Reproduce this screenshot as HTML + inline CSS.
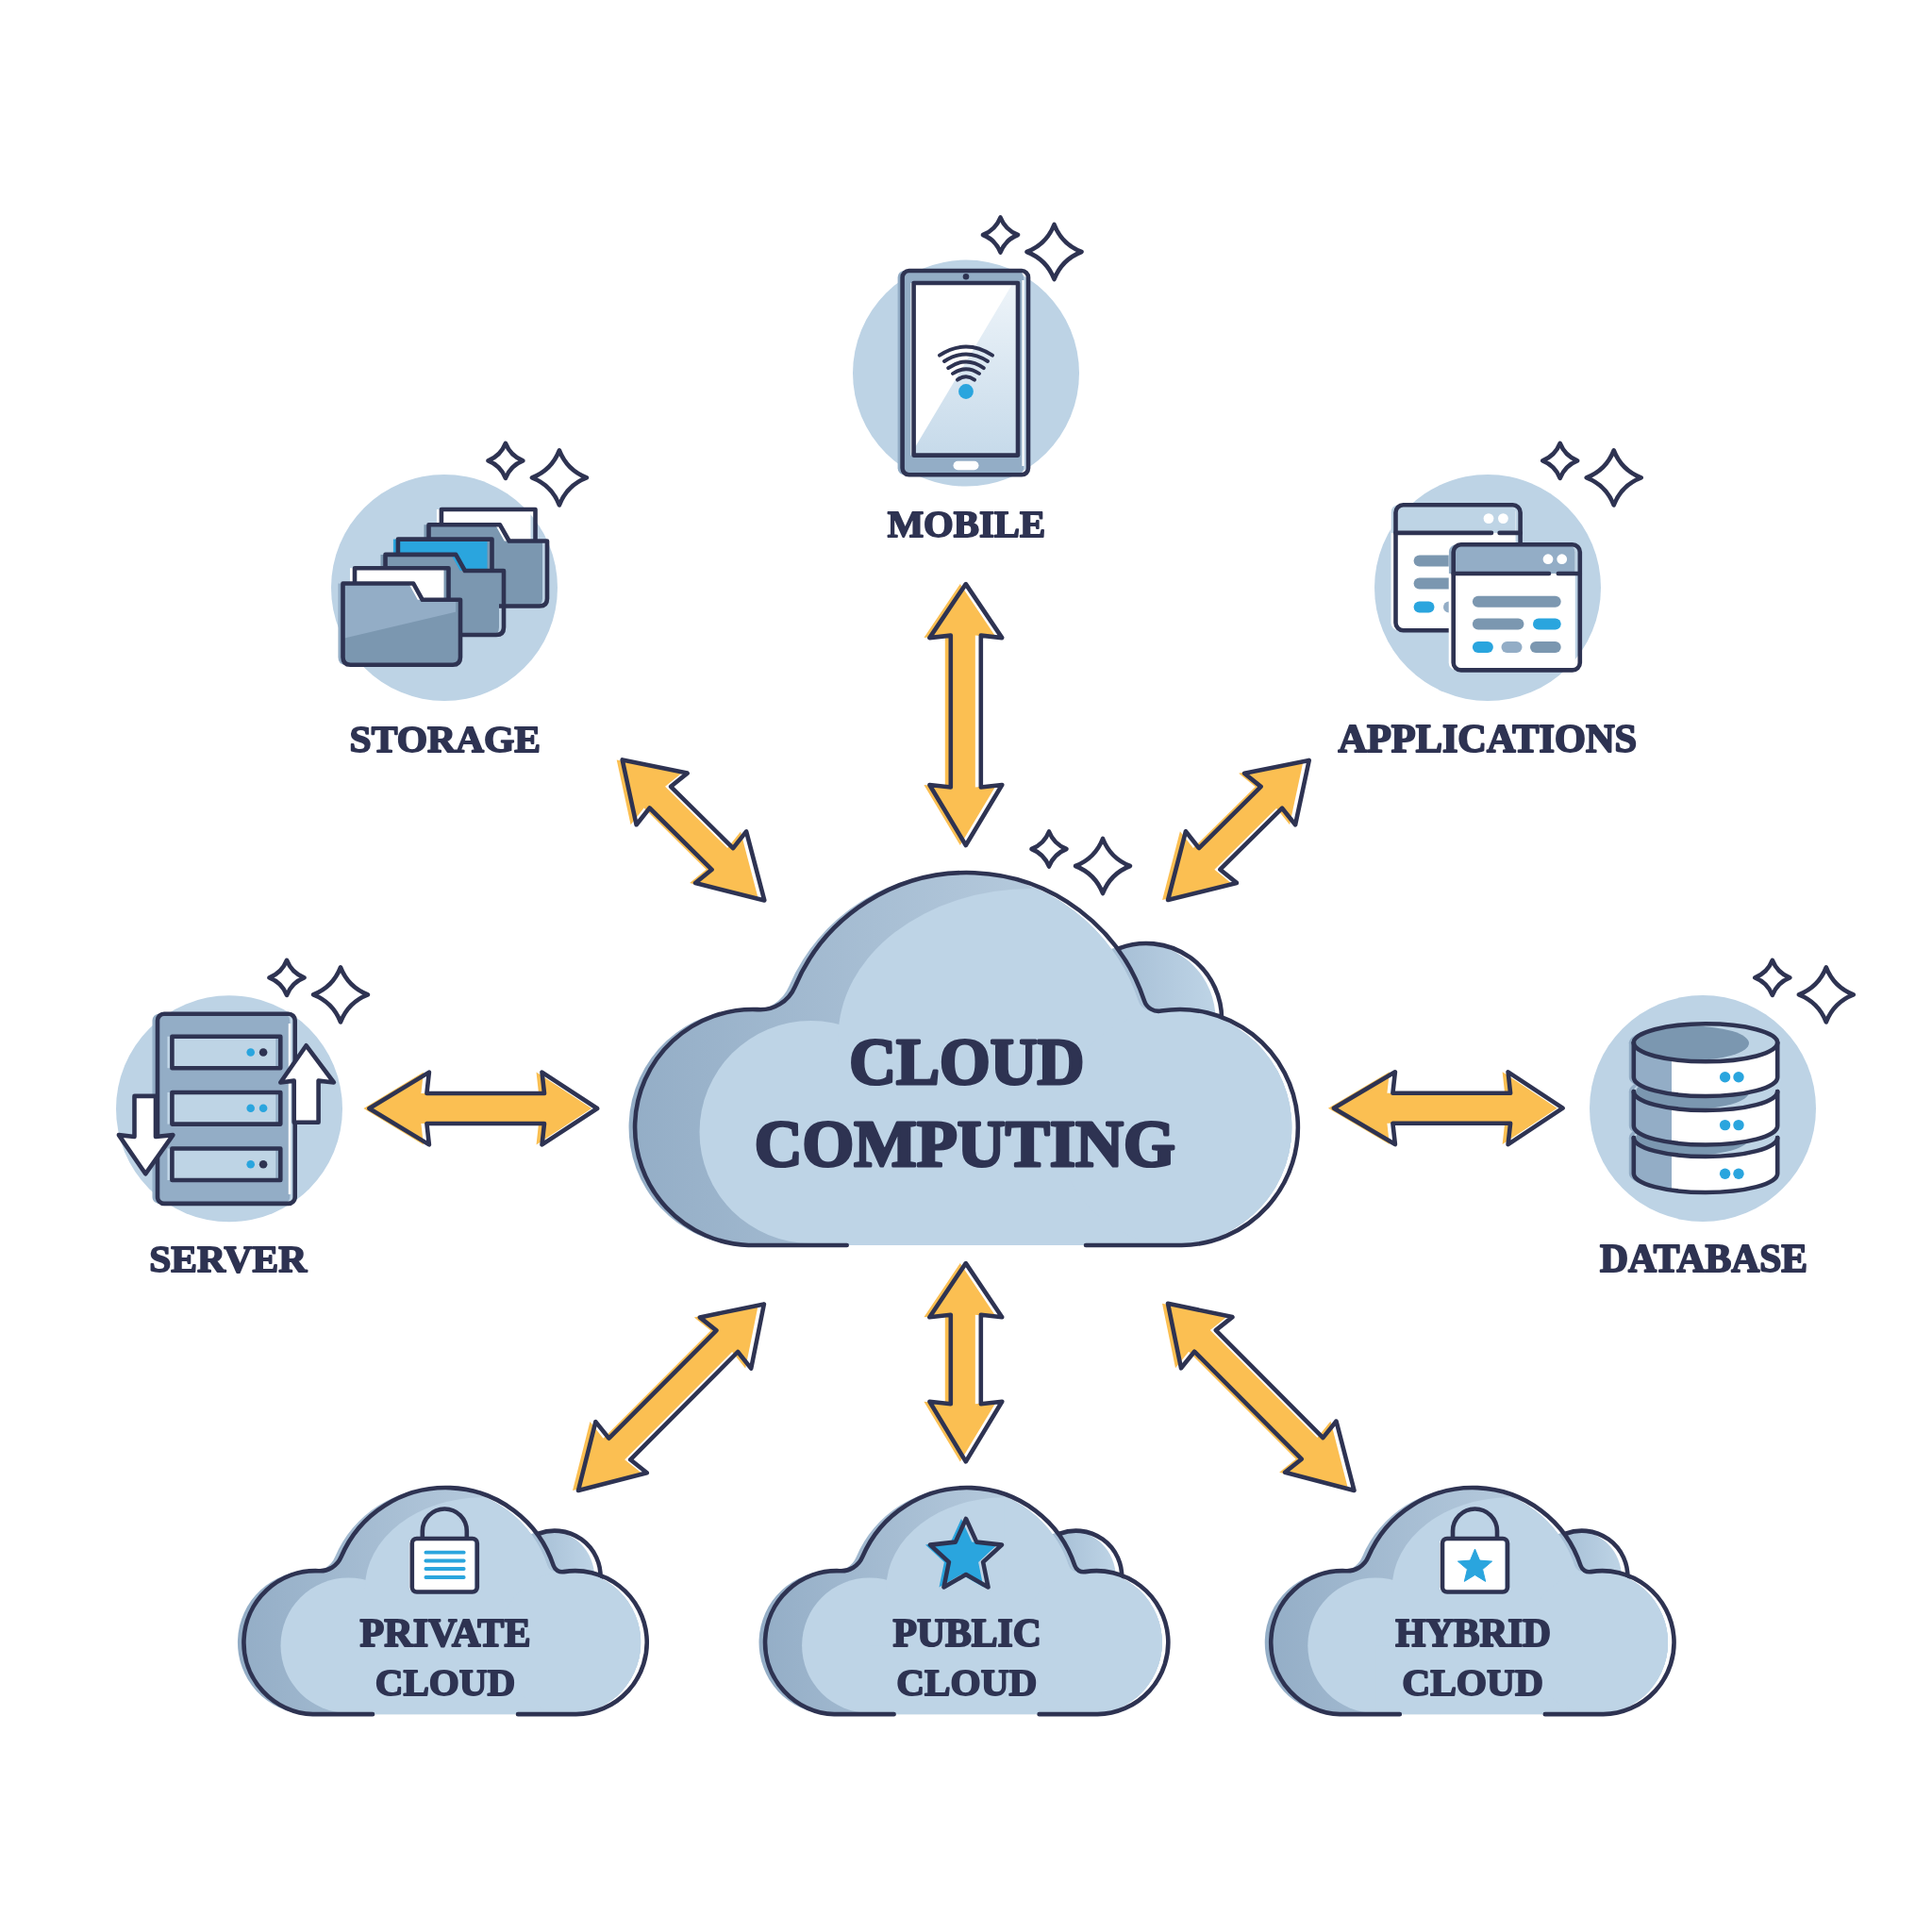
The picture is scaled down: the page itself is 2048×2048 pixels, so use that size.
<!DOCTYPE html>
<html><head><meta charset="utf-8"><style>html,body{margin:0;padding:0;background:#fff;overflow:hidden}svg{display:block;will-change:transform}</style></head><body>
<svg width="2048" height="2048" viewBox="0 0 2048 2048">
<defs>
<linearGradient id="bumpgrad" x1="0" y1="0" x2="1" y2="0"><stop offset="0" stop-color="#9ab4cd"/><stop offset="1" stop-color="#bed4e6"/></linearGradient>
<clipPath id="mainclip"><path d="M897.7,1320.0 L793.4,1320.0 A125.0,125.0 0 1 1 802.8,1070.1 A40.0,40.0 0 0 0 842.7,1045.8 A198.0,198.0 0 0 1 1213.0,1060.9 A16.0,16.0 0 0 0 1231.0,1071.6 A125.0,125.0 0 1 1 1252.6,1320.0 L1151.0,1320.0 Z"/></clipPath>
<clipPath id="privclip"><path d="M897.7,1320.0 L793.4,1320.0 A125.0,125.0 0 1 1 802.8,1070.1 A40.0,40.0 0 0 0 842.7,1045.8 A198.0,198.0 0 0 1 1213.0,1060.9 A16.0,16.0 0 0 0 1231.0,1071.6 A125.0,125.0 0 1 1 1252.6,1320.0 L1151.0,1320.0 Z"/></clipPath>
<clipPath id="pubclip"><path d="M897.7,1320.0 L793.4,1320.0 A125.0,125.0 0 1 1 802.8,1070.1 A40.0,40.0 0 0 0 842.7,1045.8 A198.0,198.0 0 0 1 1213.0,1060.9 A16.0,16.0 0 0 0 1231.0,1071.6 A125.0,125.0 0 1 1 1252.6,1320.0 L1151.0,1320.0 Z"/></clipPath>
<clipPath id="hybclip"><path d="M897.7,1320.0 L793.4,1320.0 A125.0,125.0 0 1 1 802.8,1070.1 A40.0,40.0 0 0 0 842.7,1045.8 A198.0,198.0 0 0 1 1213.0,1060.9 A16.0,16.0 0 0 0 1231.0,1071.6 A125.0,125.0 0 1 1 1252.6,1320.0 L1151.0,1320.0 Z"/></clipPath>
<linearGradient id="scr" x1="0" y1="0" x2="1" y2="1"><stop offset="0" stop-color="#ffffff"/><stop offset="1" stop-color="#c9dcec"/></linearGradient>
<linearGradient id="scr2" x1="0" y1="0" x2="0" y2="1"><stop offset="0" stop-color="#eef4f9"/><stop offset="1" stop-color="#c6daea"/></linearGradient>
<linearGradient id="darkgrad" gradientUnits="userSpaceOnUse" x1="668" y1="0" x2="1100" y2="0"><stop offset="0" stop-color="#93adc6"/><stop offset="1" stop-color="#b4c9dc"/></linearGradient>
</defs>
<rect width="2048" height="2048" fill="#fff"/>
<circle cx="1024" cy="395.6" r="120" fill="#bdd3e5"/>
<circle cx="471" cy="623" r="120" fill="#bdd3e5"/>
<circle cx="1577" cy="623" r="120" fill="#bdd3e5"/>
<circle cx="243" cy="1175.3" r="120" fill="#bdd3e5"/>
<circle cx="1805" cy="1175" r="120" fill="#bdd3e5"/>
<polygon points="1023.8,619.1 985.4,676.1 1007.8,673.6 1007.8,834.5 985.4,832.0 1023.8,896.0 1062.2,832.0 1039.8,834.5 1039.8,673.6 1062.2,676.1" fill="#fbbf52" transform="translate(-6,0)"/><polygon points="1023.8,619.1 985.4,676.1 1007.8,673.6 1007.8,834.5 985.4,832.0 1023.8,896.0 1062.2,832.0 1039.8,834.5 1039.8,673.6 1062.2,676.1" fill="none" stroke="#2e3352" stroke-width="4.6" stroke-linejoin="round"/>
<polygon points="659.7,805.4 674.6,874.2 688.6,856.5 754.6,921.8 737.1,936.0 810.3,954.4 791.1,881.4 777.1,899.1 711.1,833.8 728.6,819.6" fill="#fbbf52" transform="translate(-6,0)"/><polygon points="659.7,805.4 674.6,874.2 688.6,856.5 754.6,921.8 737.1,936.0 810.3,954.4 791.1,881.4 777.1,899.1 711.1,833.8 728.6,819.6" fill="none" stroke="#2e3352" stroke-width="4.6" stroke-linejoin="round"/>
<polygon points="1387.7,805.9 1319.1,819.7 1336.6,833.9 1270.9,899.0 1256.9,881.3 1238.1,953.9 1310.9,935.9 1293.4,921.7 1359.1,856.7 1373.1,874.3" fill="#fbbf52" transform="translate(-6,0)"/><polygon points="1387.7,805.9 1319.1,819.7 1336.6,833.9 1270.9,899.0 1256.9,881.3 1238.1,953.9 1310.9,935.9 1293.4,921.7 1359.1,856.7 1373.1,874.3" fill="none" stroke="#2e3352" stroke-width="4.6" stroke-linejoin="round"/>
<polygon points="391.4,1175.0 454.9,1213.4 452.4,1191.0 577.0,1191.0 574.5,1213.4 633.1,1175.0 574.5,1136.6 577.0,1159.0 452.4,1159.0 454.9,1136.6" fill="#fbbf52" transform="translate(-6,0)"/><polygon points="391.4,1175.0 454.9,1213.4 452.4,1191.0 577.0,1191.0 574.5,1213.4 633.1,1175.0 574.5,1136.6 577.0,1159.0 452.4,1159.0 454.9,1136.6" fill="none" stroke="#2e3352" stroke-width="4.6" stroke-linejoin="round"/>
<polygon points="1413.9,1174.7 1478.9,1213.1 1476.4,1190.7 1601.1,1190.7 1598.6,1213.1 1656.6,1174.7 1598.6,1136.3 1601.1,1158.7 1476.4,1158.7 1478.9,1136.3" fill="#fbbf52" transform="translate(-6,0)"/><polygon points="1413.9,1174.7 1478.9,1213.1 1476.4,1190.7 1601.1,1190.7 1598.6,1213.1 1656.6,1174.7 1598.6,1136.3 1601.1,1158.7 1476.4,1158.7 1478.9,1136.3" fill="none" stroke="#2e3352" stroke-width="4.6" stroke-linejoin="round"/>
<polygon points="1023.8,1339.1 985.4,1396.3 1007.8,1393.8 1007.8,1488.2 985.4,1485.7 1023.8,1549.4 1062.2,1485.7 1039.8,1488.2 1039.8,1393.8 1062.2,1396.3" fill="#fbbf52" transform="translate(-6,0)"/><polygon points="1023.8,1339.1 985.4,1396.3 1007.8,1393.8 1007.8,1488.2 985.4,1485.7 1023.8,1549.4 1062.2,1485.7 1039.8,1488.2 1039.8,1393.8 1062.2,1396.3" fill="none" stroke="#2e3352" stroke-width="4.6" stroke-linejoin="round"/>
<polygon points="809.9,1382.4 741.8,1396.4 759.4,1410.4 645.5,1524.7 631.4,1507.1 613.0,1580.0 685.8,1561.3 668.2,1547.3 782.1,1433.0 796.2,1450.6" fill="#fbbf52" transform="translate(-6,0)"/><polygon points="809.9,1382.4 741.8,1396.4 759.4,1410.4 645.5,1524.7 631.4,1507.1 613.0,1580.0 685.8,1561.3 668.2,1547.3 782.1,1433.0 796.2,1450.6" fill="none" stroke="#2e3352" stroke-width="4.6" stroke-linejoin="round"/>
<polygon points="1238.0,1381.8 1252.0,1450.3 1266.1,1432.7 1379.7,1546.7 1362.1,1560.7 1435.5,1580.0 1416.5,1506.5 1402.4,1524.1 1288.8,1410.1 1306.4,1396.1" fill="#fbbf52" transform="translate(-6,0)"/><polygon points="1238.0,1381.8 1252.0,1450.3 1266.1,1432.7 1379.7,1546.7 1362.1,1560.7 1435.5,1580.0 1416.5,1506.5 1402.4,1524.1 1288.8,1410.1 1306.4,1396.1" fill="none" stroke="#2e3352" stroke-width="4.6" stroke-linejoin="round"/>
<g transform="">
<circle cx="1208.5" cy="1080.0" r="80.0" fill="url(#bumpgrad)"/>
<path d="M1186.7,1005.2 A80.0,80.0 0 0 1 1295.0,1082.8" fill="none" stroke="#2e3352" stroke-width="4.6" stroke-linecap="round" vector-effect="non-scaling-stroke"/>
<g transform="translate(-6.5,0)">
<path d="M897.7,1320.0 L793.4,1320.0 A125.0,125.0 0 1 1 802.8,1070.1 A40.0,40.0 0 0 0 842.7,1045.8 A198.0,198.0 0 0 1 1213.0,1060.9 A16.0,16.0 0 0 0 1231.0,1071.6 A125.0,125.0 0 1 1 1252.6,1320.0 L1151.0,1320.0 Z" fill="url(#darkgrad)"/>
<g clip-path="url(#mainclip)">
<circle cx="866" cy="1200" r="118" fill="#bed4e6"/>
<ellipse cx="1100" cy="1100" rx="205" ry="158" fill="#bed4e6"/>
<rect x="1100" y="900" width="400" height="300" fill="#bed4e6"/>
<rect x="866" y="1200" width="600" height="200" fill="#bed4e6"/><rect x="895" y="1100" width="600" height="200" fill="#bed4e6"/>
<circle cx="1252.6" cy="1194.7" r="125.0" fill="#bed4e6"/>
</g>
</g>
<path d="M897.7,1320.0 L793.4,1320.0 A125.0,125.0 0 1 1 802.8,1070.1 A40.0,40.0 0 0 0 842.7,1045.8 A198.0,198.0 0 0 1 1213.0,1060.9 A16.0,16.0 0 0 0 1231.0,1071.6 A125.0,125.0 0 1 1 1252.6,1320.0 L1151.0,1320.0" fill="none" stroke="#2e3352" stroke-width="4.6" stroke-linecap="round" vector-effect="non-scaling-stroke"/>
</g>
<text x="900.2" y="1148.9" textLength="249.1" lengthAdjust="spacingAndGlyphs" font-family="Liberation Serif" font-weight="bold" font-size="68.9" fill="#2e3352" stroke="#2e3352" stroke-width="3.1" stroke-linejoin="round">CLOUD</text>
<text x="799.7" y="1235.7" textLength="446.0" lengthAdjust="spacingAndGlyphs" font-family="Liberation Serif" font-weight="bold" font-size="69.7" fill="#2e3352" stroke="#2e3352" stroke-width="3.1" stroke-linejoin="round">COMPUTING</text>
<path d="M1112.0,881.5 Q1117.2,894.8 1130.5,900.0 Q1117.2,905.2 1112.0,918.5 Q1106.8,905.2 1093.5,900.0 Q1106.8,894.8 1112.0,881.5 Z" fill="#fff" stroke="#2e3352" stroke-width="4.6" stroke-linejoin="round"/><path d="M1169.0,889.0 Q1177.1,909.9 1198.0,918.0 Q1177.1,926.1 1169.0,947.0 Q1160.9,926.1 1140.0,918.0 Q1160.9,909.9 1169.0,889.0 Z" fill="#fff" stroke="#2e3352" stroke-width="4.6" stroke-linejoin="round"/>
<g transform="translate(471.2,1577.0) scale(0.608) translate(-1023,-925)">
<circle cx="1204.3" cy="1080.0" r="80.0" fill="url(#bumpgrad)"/>
<path d="M1186.7,1005.2 A80.0,80.0 0 0 1 1295.0,1082.8" fill="none" stroke="#2e3352" stroke-width="4.6" stroke-linecap="round" vector-effect="non-scaling-stroke"/>
<g transform="translate(-10.7,0)">
<path d="M897.7,1320.0 L793.4,1320.0 A125.0,125.0 0 1 1 802.8,1070.1 A40.0,40.0 0 0 0 842.7,1045.8 A198.0,198.0 0 0 1 1213.0,1060.9 A16.0,16.0 0 0 0 1231.0,1071.6 A125.0,125.0 0 1 1 1252.6,1320.0 L1151.0,1320.0 Z" fill="url(#darkgrad)"/>
<g clip-path="url(#privclip)">
<circle cx="866" cy="1200" r="118" fill="#bed4e6"/>
<ellipse cx="1100" cy="1100" rx="205" ry="158" fill="#bed4e6"/>
<rect x="1100" y="900" width="400" height="300" fill="#bed4e6"/>
<rect x="866" y="1200" width="600" height="200" fill="#bed4e6"/><rect x="895" y="1100" width="600" height="200" fill="#bed4e6"/>
<circle cx="1252.6" cy="1194.7" r="125.0" fill="#bed4e6"/>
</g>
</g>
<path d="M897.7,1320.0 L793.4,1320.0 A125.0,125.0 0 1 1 802.8,1070.1 A40.0,40.0 0 0 0 842.7,1045.8 A198.0,198.0 0 0 1 1213.0,1060.9 A16.0,16.0 0 0 0 1231.0,1071.6 A125.0,125.0 0 1 1 1252.6,1320.0 L1151.0,1320.0" fill="none" stroke="#2e3352" stroke-width="4.6" stroke-linecap="round" vector-effect="non-scaling-stroke"/>
</g>
<g transform="translate(1023.8,1577.0) scale(0.608) translate(-1023,-925)">
<circle cx="1204.3" cy="1080.0" r="80.0" fill="url(#bumpgrad)"/>
<path d="M1186.7,1005.2 A80.0,80.0 0 0 1 1295.0,1082.8" fill="none" stroke="#2e3352" stroke-width="4.6" stroke-linecap="round" vector-effect="non-scaling-stroke"/>
<g transform="translate(-10.7,0)">
<path d="M897.7,1320.0 L793.4,1320.0 A125.0,125.0 0 1 1 802.8,1070.1 A40.0,40.0 0 0 0 842.7,1045.8 A198.0,198.0 0 0 1 1213.0,1060.9 A16.0,16.0 0 0 0 1231.0,1071.6 A125.0,125.0 0 1 1 1252.6,1320.0 L1151.0,1320.0 Z" fill="url(#darkgrad)"/>
<g clip-path="url(#pubclip)">
<circle cx="866" cy="1200" r="118" fill="#bed4e6"/>
<ellipse cx="1100" cy="1100" rx="205" ry="158" fill="#bed4e6"/>
<rect x="1100" y="900" width="400" height="300" fill="#bed4e6"/>
<rect x="866" y="1200" width="600" height="200" fill="#bed4e6"/><rect x="895" y="1100" width="600" height="200" fill="#bed4e6"/>
<circle cx="1252.6" cy="1194.7" r="125.0" fill="#bed4e6"/>
</g>
</g>
<path d="M897.7,1320.0 L793.4,1320.0 A125.0,125.0 0 1 1 802.8,1070.1 A40.0,40.0 0 0 0 842.7,1045.8 A198.0,198.0 0 0 1 1213.0,1060.9 A16.0,16.0 0 0 0 1231.0,1071.6 A125.0,125.0 0 1 1 1252.6,1320.0 L1151.0,1320.0" fill="none" stroke="#2e3352" stroke-width="4.6" stroke-linecap="round" vector-effect="non-scaling-stroke"/>
</g>
<g transform="translate(1560.0,1577.0) scale(0.608) translate(-1023,-925)">
<circle cx="1204.3" cy="1080.0" r="80.0" fill="url(#bumpgrad)"/>
<path d="M1186.7,1005.2 A80.0,80.0 0 0 1 1295.0,1082.8" fill="none" stroke="#2e3352" stroke-width="4.6" stroke-linecap="round" vector-effect="non-scaling-stroke"/>
<g transform="translate(-10.7,0)">
<path d="M897.7,1320.0 L793.4,1320.0 A125.0,125.0 0 1 1 802.8,1070.1 A40.0,40.0 0 0 0 842.7,1045.8 A198.0,198.0 0 0 1 1213.0,1060.9 A16.0,16.0 0 0 0 1231.0,1071.6 A125.0,125.0 0 1 1 1252.6,1320.0 L1151.0,1320.0 Z" fill="url(#darkgrad)"/>
<g clip-path="url(#hybclip)">
<circle cx="866" cy="1200" r="118" fill="#bed4e6"/>
<ellipse cx="1100" cy="1100" rx="205" ry="158" fill="#bed4e6"/>
<rect x="1100" y="900" width="400" height="300" fill="#bed4e6"/>
<rect x="866" y="1200" width="600" height="200" fill="#bed4e6"/><rect x="895" y="1100" width="600" height="200" fill="#bed4e6"/>
<circle cx="1252.6" cy="1194.7" r="125.0" fill="#bed4e6"/>
</g>
</g>
<path d="M897.7,1320.0 L793.4,1320.0 A125.0,125.0 0 1 1 802.8,1070.1 A40.0,40.0 0 0 0 842.7,1045.8 A198.0,198.0 0 0 1 1213.0,1060.9 A16.0,16.0 0 0 0 1231.0,1071.6 A125.0,125.0 0 1 1 1252.6,1320.0 L1151.0,1320.0" fill="none" stroke="#2e3352" stroke-width="4.6" stroke-linecap="round" vector-effect="non-scaling-stroke"/>
</g>
<text x="381.6" y="1745.0" textLength="180.9" lengthAdjust="spacingAndGlyphs" font-family="Liberation Serif" font-weight="bold" font-size="41.4" fill="#2e3352" stroke="#2e3352" stroke-width="1.9" stroke-linejoin="round">PRIVATE</text>
<text x="397.7" y="1796.6" textLength="148.5" lengthAdjust="spacingAndGlyphs" font-family="Liberation Serif" font-weight="bold" font-size="40.9" fill="#2e3352" stroke="#2e3352" stroke-width="1.8" stroke-linejoin="round">CLOUD</text>
<text x="946.5" y="1744.7" textLength="157.4" lengthAdjust="spacingAndGlyphs" font-family="Liberation Serif" font-weight="bold" font-size="41.2" fill="#2e3352" stroke="#2e3352" stroke-width="1.9" stroke-linejoin="round">PUBLIC</text>
<text x="950.2" y="1796.6" textLength="149.1" lengthAdjust="spacingAndGlyphs" font-family="Liberation Serif" font-weight="bold" font-size="40.9" fill="#2e3352" stroke="#2e3352" stroke-width="1.8" stroke-linejoin="round">CLOUD</text>
<text x="1479.3" y="1744.7" textLength="164.7" lengthAdjust="spacingAndGlyphs" font-family="Liberation Serif" font-weight="bold" font-size="41.2" fill="#2e3352" stroke="#2e3352" stroke-width="1.9" stroke-linejoin="round">HYBRID</text>
<text x="1486.2" y="1796.6" textLength="149.8" lengthAdjust="spacingAndGlyphs" font-family="Liberation Serif" font-weight="bold" font-size="40.9" fill="#2e3352" stroke="#2e3352" stroke-width="1.8" stroke-linejoin="round">CLOUD</text>
<text x="940.7" y="568.9" textLength="167.4" lengthAdjust="spacingAndGlyphs" font-family="Liberation Serif" font-weight="bold" font-size="40.7" fill="#2e3352" stroke="#2e3352" stroke-width="1.8" stroke-linejoin="round">MOBILE</text>
<text x="370.6" y="796.6" textLength="202.5" lengthAdjust="spacingAndGlyphs" font-family="Liberation Serif" font-weight="bold" font-size="40.9" fill="#2e3352" stroke="#2e3352" stroke-width="1.8" stroke-linejoin="round">STORAGE</text>
<text x="1418.4" y="796.7" textLength="316.7" lengthAdjust="spacingAndGlyphs" font-family="Liberation Serif" font-weight="bold" font-size="41.4" fill="#2e3352" stroke="#2e3352" stroke-width="1.9" stroke-linejoin="round">APPLICATIONS</text>
<text x="158.3" y="1348.4" textLength="166.8" lengthAdjust="spacingAndGlyphs" font-family="Liberation Serif" font-weight="bold" font-size="41.0" fill="#2e3352" stroke="#2e3352" stroke-width="1.8" stroke-linejoin="round">SERVER</text>
<text x="1695.9" y="1348.4" textLength="220.1" lengthAdjust="spacingAndGlyphs" font-family="Liberation Serif" font-weight="bold" font-size="41.2" fill="#2e3352" stroke="#2e3352" stroke-width="1.9" stroke-linejoin="round">DATABASE</text>
<path d="M1060.5,230.5 Q1065.7,243.8 1079.0,249.0 Q1065.7,254.2 1060.5,267.5 Q1055.3,254.2 1042.0,249.0 Q1055.3,243.8 1060.5,230.5 Z" fill="#fff" stroke="#2e3352" stroke-width="4.6" stroke-linejoin="round"/><path d="M1117.5,238.0 Q1125.6,258.9 1146.5,267.0 Q1125.6,275.1 1117.5,296.0 Q1109.4,275.1 1088.5,267.0 Q1109.4,258.9 1117.5,238.0 Z" fill="#fff" stroke="#2e3352" stroke-width="4.6" stroke-linejoin="round"/>
<path d="M535.9,469.8 Q541.1,483.1 554.4,488.3 Q541.1,493.5 535.9,506.8 Q530.7,493.5 517.4,488.3 Q530.7,483.1 535.9,469.8 Z" fill="#fff" stroke="#2e3352" stroke-width="4.6" stroke-linejoin="round"/><path d="M592.9,477.3 Q601.0,498.2 621.9,506.3 Q601.0,514.4 592.9,535.3 Q584.8,514.4 563.9,506.3 Q584.8,498.2 592.9,477.3 Z" fill="#fff" stroke="#2e3352" stroke-width="4.6" stroke-linejoin="round"/>
<path d="M1653.7,469.8 Q1658.9,483.1 1672.2,488.3 Q1658.9,493.5 1653.7,506.8 Q1648.5,493.5 1635.2,488.3 Q1648.5,483.1 1653.7,469.8 Z" fill="#fff" stroke="#2e3352" stroke-width="4.6" stroke-linejoin="round"/><path d="M1710.7,477.3 Q1718.8,498.2 1739.7,506.3 Q1718.8,514.4 1710.7,535.3 Q1702.6,514.4 1681.7,506.3 Q1702.6,498.2 1710.7,477.3 Z" fill="#fff" stroke="#2e3352" stroke-width="4.6" stroke-linejoin="round"/>
<path d="M304.0,1017.9 Q309.2,1031.2 322.5,1036.4 Q309.2,1041.6 304.0,1054.9 Q298.8,1041.6 285.5,1036.4 Q298.8,1031.2 304.0,1017.9 Z" fill="#fff" stroke="#2e3352" stroke-width="4.6" stroke-linejoin="round"/><path d="M361.0,1025.4 Q369.1,1046.3 390.0,1054.4 Q369.1,1062.5 361.0,1083.4 Q352.9,1062.5 332.0,1054.4 Q352.9,1046.3 361.0,1025.4 Z" fill="#fff" stroke="#2e3352" stroke-width="4.6" stroke-linejoin="round"/>
<path d="M1878.8,1017.9 Q1884.0,1031.2 1897.3,1036.4 Q1884.0,1041.6 1878.8,1054.9 Q1873.6,1041.6 1860.3,1036.4 Q1873.6,1031.2 1878.8,1017.9 Z" fill="#fff" stroke="#2e3352" stroke-width="4.6" stroke-linejoin="round"/><path d="M1935.8,1025.4 Q1943.9,1046.3 1964.8,1054.4 Q1943.9,1062.5 1935.8,1083.4 Q1927.7,1062.5 1906.8,1054.4 Q1927.7,1046.3 1935.8,1025.4 Z" fill="#fff" stroke="#2e3352" stroke-width="4.6" stroke-linejoin="round"/>
<rect x="951.6" y="287" width="133.4" height="216.3" rx="7" fill="#93adc6"/>
<line x1="1084.5" y1="297" x2="1084.5" y2="494" stroke="#fff" stroke-width="2.2"/>
<rect x="956.6" y="287" width="133.4" height="216.3" rx="7" fill="none" stroke="#2e3352" stroke-width="4.6" stroke-linejoin="round" stroke-linecap="round" />
<rect x="965.5" y="300" width="110.4" height="182.6" fill="#fff"/>
<path d="M965,482.6 L1079,482.6 L1079,300 L1073.7,300 Z" fill="url(#scr2)"/>
<rect x="968.6" y="300" width="110.4" height="182.6" fill="none" stroke="#2e3352" stroke-width="4.6" stroke-linejoin="round" stroke-linecap="round" />
<circle cx="1024" cy="293.2" r="3.3" fill="#2e3352"/>
<rect x="1010.5" y="488.8" width="27" height="9.4" rx="4.7" fill="#fff"/>
<path d="M996.0,376.7 Q1024,358.5 1052.0,376.7" fill="none" stroke="#2e3352" stroke-width="3.9" stroke-linecap="round"/>
<path d="M1001.0,383.0 Q1024,368.0 1047.0,383.0" fill="none" stroke="#2e3352" stroke-width="3.9" stroke-linecap="round"/>
<path d="M1005.2,390.2 Q1024,376.6 1042.8,390.2" fill="none" stroke="#2e3352" stroke-width="3.9" stroke-linecap="round"/>
<path d="M1010.0,396.0 Q1024,386.4 1038.0,396.0" fill="none" stroke="#2e3352" stroke-width="3.9" stroke-linecap="round"/>
<path d="M1015.0,402.6 Q1024,396.0 1033.0,402.6" fill="none" stroke="#2e3352" stroke-width="3.9" stroke-linecap="round"/>
<circle cx="1024" cy="415" r="7.9" fill="#2aa5de"/>
<rect x="462.9" y="540" width="99.6" height="60" fill="#fff"/>
<path d="M467.9,600 L467.9,540 L567.5,540 L567.5,600" fill="none" stroke="#2e3352" stroke-width="4.6" stroke-linejoin="round" stroke-linecap="round" />
<path d="M454.5,556.3 L530.0,556.3 L539.7,573.5 L580.0,573.5 L580.0,634.5 Q580.0,642.5 572.0,642.5 L462.5,642.5 Q454.5,642.5 454.5,634.5 Z" fill="#7b97b0" transform="translate(-5,0)"/>
<path d="M454.5,556.3 L530.0,556.3 L539.7,573.5 L580.0,573.5 L580.0,634.5 Q580.0,642.5 572.0,642.5 L462.5,642.5 Q454.5,642.5 454.5,634.5 Z" fill="none" stroke="#2e3352" stroke-width="4.6" stroke-linejoin="round" stroke-linecap="round" />
<rect x="416.9" y="571.6" width="99.6" height="50" fill="#2aa5de"/>
<path d="M421.9,620 L421.9,571.6 L521.5,571.6 L521.5,620" fill="none" stroke="#2e3352" stroke-width="4.6" stroke-linejoin="round" stroke-linecap="round" />
<path d="M408.5,587.9 L483.2,587.9 L492.8,605.0 L534.0,605.0 L534.0,665.0 Q534.0,673.0 526.0,673.0 L416.5,673.0 Q408.5,673.0 408.5,665.0 Z" fill="#7b97b0" transform="translate(-5,0)"/>
<path d="M408.5,587.9 L483.2,587.9 L492.8,605.0 L534.0,605.0 L534.0,665.0 Q534.0,673.0 526.0,673.0 L416.5,673.0 Q408.5,673.0 408.5,665.0 Z" fill="none" stroke="#2e3352" stroke-width="4.6" stroke-linejoin="round" stroke-linecap="round" />
<rect x="371.0" y="602.2" width="99.5" height="50" fill="#fff"/>
<path d="M376,650 L376,602.2 L475.5,602.2 L475.5,650" fill="none" stroke="#2e3352" stroke-width="4.6" stroke-linejoin="round" stroke-linecap="round" />
<path d="M363.5,618.5 L438.2,618.5 L447.8,635.8 L488.0,635.8 L488.0,696.7 Q488.0,704.7 480.0,704.7 L371.5,704.7 Q363.5,704.7 363.5,696.7 Z" fill="#93adc6" transform="translate(-5,0)"/>
<clipPath id="ffclip"><path d="M363.5,618.5 L438.2,618.5 L447.8,635.8 L488.0,635.8 L488.0,696.7 Q488.0,704.7 480.0,704.7 L371.5,704.7 Q363.5,704.7 363.5,696.7 Z"/></clipPath>
<path d="M300,692 L490,647 L490,720 L300,720 Z" fill="#7b97b0" clip-path="url(#ffclip)"/>
<path d="M363.5,618.5 L438.2,618.5 L447.8,635.8 L488.0,635.8 L488.0,696.7 Q488.0,704.7 480.0,704.7 L371.5,704.7 Q363.5,704.7 363.5,696.7 Z" fill="none" stroke="#2e3352" stroke-width="4.6" stroke-linejoin="round" stroke-linecap="round" />
<rect x="1474.5" y="535.2" width="132.1" height="133.1" rx="8" fill="#fff"/>
<clipPath id="w1479"><rect x="1474.5" y="535.2" width="132.1" height="133.1" rx="8"/></clipPath>
<rect x="1474.5" y="535.2" width="132.1" height="29.7" fill="#bed4e5" clip-path="url(#w1479)"/>
<rect x="1479.5" y="535.2" width="132.1" height="133.1" rx="8" fill="none" stroke="#2e3352" stroke-width="4.6" stroke-linejoin="round" stroke-linecap="round" />
<line x1="1479.5" y1="564.9" x2="1581.0" y2="564.9" fill="none" stroke="#2e3352" stroke-width="4.6" stroke-linejoin="round" stroke-linecap="round" />
<line x1="1589.6" y1="564.9" x2="1611.6" y2="564.9" fill="none" stroke="#2e3352" stroke-width="4.6" stroke-linejoin="round" stroke-linecap="round" />
<circle cx="1578.0" cy="549.6" r="5.4" fill="#fff"/>
<circle cx="1593.4" cy="549.6" r="5.4" fill="#fff"/>
<line x1="1504.6" y1="594.6" x2="1539.0" y2="594.6" stroke="#7b97b0" stroke-width="12" stroke-linecap="round"/>
<line x1="1504.6" y1="618.5" x2="1539.0" y2="618.5" stroke="#7b97b0" stroke-width="12" stroke-linecap="round"/>
<line x1="1504.6" y1="643.4" x2="1514.5" y2="643.4" stroke="#2aa5de" stroke-width="12" stroke-linecap="round"/>
<line x1="1536.0" y1="643.4" x2="1539.0" y2="643.4" stroke="#93adc6" stroke-width="12" stroke-linecap="round"/>
<rect x="1535.7" y="577.3" width="134.1" height="133.1" rx="8" fill="#fff"/>
<clipPath id="w1540"><rect x="1535.7" y="577.3" width="134.1" height="133.1" rx="8"/></clipPath>
<rect x="1535.7" y="577.3" width="134.1" height="30.7" fill="#93adc6" clip-path="url(#w1540)"/>
<rect x="1540.7" y="577.3" width="134.1" height="133.1" rx="8" fill="none" stroke="#2e3352" stroke-width="4.6" stroke-linejoin="round" stroke-linecap="round" />
<line x1="1540.7" y1="608.0" x2="1642.0" y2="608.0" fill="none" stroke="#2e3352" stroke-width="4.6" stroke-linejoin="round" stroke-linecap="round" />
<line x1="1651.8" y1="608.0" x2="1674.8" y2="608.0" fill="none" stroke="#2e3352" stroke-width="4.6" stroke-linejoin="round" stroke-linecap="round" />
<circle cx="1641.0" cy="592.7" r="5.4" fill="#fff"/>
<circle cx="1655.7" cy="592.7" r="5.4" fill="#fff"/>
<line x1="1566.9" y1="637.7" x2="1648.7" y2="637.7" stroke="#7b97b0" stroke-width="12" stroke-linecap="round"/>
<line x1="1566.9" y1="661.6" x2="1609.4" y2="661.6" stroke="#7b97b0" stroke-width="12" stroke-linecap="round"/>
<line x1="1631.0" y1="661.6" x2="1648.7" y2="661.6" stroke="#2aa5de" stroke-width="12" stroke-linecap="round"/>
<line x1="1566.9" y1="685.9" x2="1576.9" y2="685.9" stroke="#2aa5de" stroke-width="12" stroke-linecap="round"/>
<line x1="1597.5" y1="685.9" x2="1607.5" y2="685.9" stroke="#93adc6" stroke-width="12" stroke-linecap="round"/>
<line x1="1628.0" y1="685.9" x2="1648.7" y2="685.9" stroke="#7b97b0" stroke-width="12" stroke-linecap="round"/>
<rect x="161.5" y="1074.7" width="145.7" height="201.2" rx="7" fill="#93adc6"/>
<line x1="307" y1="1085" x2="307" y2="1266" stroke="#fff" stroke-width="2.5"/>
<rect x="167" y="1074.7" width="145.7" height="201.2" rx="7" fill="none" stroke="#2e3352" stroke-width="4.6" stroke-linejoin="round" stroke-linecap="round" />
<rect x="177.4" y="1098.7" width="114.9" height="33.5" fill="#bed4e5"/>
<rect x="182.4" y="1098.7" width="114.9" height="33.5" fill="none" stroke="#2e3352" stroke-width="4.6" stroke-linejoin="round" stroke-linecap="round" />
<circle cx="265.7" cy="1115.5" r="4.3" fill="#2aa5de"/>
<circle cx="279.1" cy="1115.5" r="4.3" fill="#2e3352"/>
<rect x="177.4" y="1158.0" width="114.9" height="33.6" fill="#bed4e5"/>
<rect x="182.4" y="1158.0" width="114.9" height="33.6" fill="none" stroke="#2e3352" stroke-width="4.6" stroke-linejoin="round" stroke-linecap="round" />
<circle cx="265.7" cy="1174.8" r="4.3" fill="#2aa5de"/>
<circle cx="279.1" cy="1174.8" r="4.3" fill="#2aa5de"/>
<rect x="177.4" y="1217.5" width="114.9" height="33.5" fill="#bed4e5"/>
<rect x="182.4" y="1217.5" width="114.9" height="33.5" fill="none" stroke="#2e3352" stroke-width="4.6" stroke-linejoin="round" stroke-linecap="round" />
<circle cx="265.7" cy="1234.2" r="4.3" fill="#2aa5de"/>
<circle cx="279.1" cy="1234.2" r="4.3" fill="#2e3352"/>
<polygon points="324.6,1108.3 353.9,1147.5 337.6,1145.6 337.6,1189.7 311.7,1189.7 311.7,1145.6 297.3,1147.5" fill="#fff" stroke="#2e3352" stroke-width="4.6" stroke-linejoin="round" stroke-linecap="round" />
<polygon points="154.2,1244.3 183.4,1203.1 165,1205 165,1161.9 142.5,1161.9 142.5,1205 125.9,1203.1" fill="#fff" stroke="#2e3352" stroke-width="4.6" stroke-linejoin="round" stroke-linecap="round" />
<ellipse cx="1803.0" cy="1206.0" rx="76.2" ry="20.0" fill="#93adc6"/>
<path d="M1731.8,1206.0 L1731.8,1244.0 A76.2,20.0 0 0 0 1884.2,1244.0 L1884.2,1206.0 Z" fill="#93adc6" transform="translate(-5,0)"/>
<path d="M1731.8,1206.0 L1731.8,1244.0 A76.2,20.0 0 0 0 1884.2,1244.0 L1884.2,1206.0 Z" fill="#fff"/>
<clipPath id="db0"><path d="M1731.8,1206.0 L1731.8,1244.0 A76.2,20.0 0 0 0 1884.2,1244.0 L1884.2,1206.0 Z"/></clipPath>
<rect x="1727.8" y="1176.0" width="44.2" height="98.0" fill="#93adc6" clip-path="url(#db0)"/>
<path d="M1727.8,1206.0 L1727.8,1244.0 A76.2,20.0 0 0 0 1880.2,1244.0" fill="none" stroke="#93adc6" stroke-width="0"/>
<ellipse cx="1808.0" cy="1206.0" rx="76.2" ry="20.0" fill="#bed4e5"/>
<clipPath id="dbt0"><ellipse cx="1808.0" cy="1206.0" rx="76.2" ry="20.0"/></clipPath>
<ellipse cx="1794.0" cy="1206.5" rx="60" ry="18" fill="#7b97b0" clip-path="url(#dbt0)"/>
<path d="M1731.8,1206.0 L1731.8,1244.0 A76.2,20.0 0 0 0 1884.2,1244.0 L1884.2,1206.0" fill="none" stroke="#2e3352" stroke-width="4.6" stroke-linejoin="round" stroke-linecap="round" />
<path d="M1731.8,1206.0 A76.2,20.0 0 0 0 1884.2,1206.0" fill="none" stroke="#2e3352" stroke-width="4.6" stroke-linejoin="round" stroke-linecap="round" />
<circle cx="1828.6" cy="1244.3" r="5.7" fill="#2aa5de"/>
<circle cx="1843" cy="1244.3" r="5.7" fill="#2aa5de"/>
<ellipse cx="1803.0" cy="1157.0" rx="76.2" ry="20.0" fill="#93adc6"/>
<path d="M1731.8,1157.0 L1731.8,1193.5 A76.2,20.0 0 0 0 1884.2,1193.5 L1884.2,1157.0 Z" fill="#93adc6" transform="translate(-5,0)"/>
<path d="M1731.8,1157.0 L1731.8,1193.5 A76.2,20.0 0 0 0 1884.2,1193.5 L1884.2,1157.0 Z" fill="#fff"/>
<clipPath id="db1"><path d="M1731.8,1157.0 L1731.8,1193.5 A76.2,20.0 0 0 0 1884.2,1193.5 L1884.2,1157.0 Z"/></clipPath>
<rect x="1727.8" y="1127.0" width="44.2" height="96.5" fill="#93adc6" clip-path="url(#db1)"/>
<path d="M1727.8,1157.0 L1727.8,1193.5 A76.2,20.0 0 0 0 1880.2,1193.5" fill="none" stroke="#93adc6" stroke-width="0"/>
<ellipse cx="1808.0" cy="1157.0" rx="76.2" ry="20.0" fill="#bed4e5"/>
<clipPath id="dbt1"><ellipse cx="1808.0" cy="1157.0" rx="76.2" ry="20.0"/></clipPath>
<ellipse cx="1794.0" cy="1157.5" rx="60" ry="18" fill="#7b97b0" clip-path="url(#dbt1)"/>
<path d="M1731.8,1157.0 L1731.8,1193.5 A76.2,20.0 0 0 0 1884.2,1193.5 L1884.2,1157.0" fill="none" stroke="#2e3352" stroke-width="4.6" stroke-linejoin="round" stroke-linecap="round" />
<path d="M1731.8,1157.0 A76.2,20.0 0 0 0 1884.2,1157.0" fill="none" stroke="#2e3352" stroke-width="4.6" stroke-linejoin="round" stroke-linecap="round" />
<circle cx="1828.6" cy="1192.6" r="5.7" fill="#2aa5de"/>
<circle cx="1843" cy="1192.6" r="5.7" fill="#2aa5de"/>
<ellipse cx="1803.0" cy="1105.3" rx="76.2" ry="20.0" fill="#93adc6"/>
<path d="M1731.8,1105.3 L1731.8,1142.0 A76.2,20.0 0 0 0 1884.2,1142.0 L1884.2,1105.3 Z" fill="#93adc6" transform="translate(-5,0)"/>
<path d="M1731.8,1105.3 L1731.8,1142.0 A76.2,20.0 0 0 0 1884.2,1142.0 L1884.2,1105.3 Z" fill="#fff"/>
<clipPath id="db2"><path d="M1731.8,1105.3 L1731.8,1142.0 A76.2,20.0 0 0 0 1884.2,1142.0 L1884.2,1105.3 Z"/></clipPath>
<rect x="1727.8" y="1075.3" width="44.2" height="96.7" fill="#93adc6" clip-path="url(#db2)"/>
<path d="M1727.8,1105.3 L1727.8,1142.0 A76.2,20.0 0 0 0 1880.2,1142.0" fill="none" stroke="#93adc6" stroke-width="0"/>
<ellipse cx="1808.0" cy="1105.3" rx="76.2" ry="20.0" fill="#bed4e5"/>
<clipPath id="dbt2"><ellipse cx="1808.0" cy="1105.3" rx="76.2" ry="20.0"/></clipPath>
<ellipse cx="1794.0" cy="1105.8" rx="60" ry="18" fill="#7b97b0" clip-path="url(#dbt2)"/>
<path d="M1731.8,1105.3 L1731.8,1142.0 A76.2,20.0 0 0 0 1884.2,1142.0 L1884.2,1105.3" fill="none" stroke="#2e3352" stroke-width="4.6" stroke-linejoin="round" stroke-linecap="round" />
<path d="M1731.8,1105.3 A76.2,20.0 0 0 0 1884.2,1105.3" fill="none" stroke="#2e3352" stroke-width="4.6" stroke-linejoin="round" stroke-linecap="round" />
<path d="M1731.8,1105.3 A76.2,20.0 0 0 1 1884.2,1105.3" fill="none" stroke="#2e3352" stroke-width="4.6" stroke-linejoin="round" stroke-linecap="round" />
<circle cx="1828.6" cy="1141.8" r="5.7" fill="#2aa5de"/>
<circle cx="1843" cy="1141.8" r="5.7" fill="#2aa5de"/>
<path d="M447.8,1631.0 L447.8,1623.0 A23.5,23.5 0 0 1 494.8,1623.0 L494.8,1631.0" fill="none" stroke="#2e3352" stroke-width="4.6" stroke-linejoin="round" stroke-linecap="round" />
<rect x="433.8" y="1631.0" width="69.0" height="56.5" rx="5" fill="#fff"/>
<rect x="436.8" y="1631.0" width="69.0" height="56.5" rx="5" fill="none" stroke="#2e3352" stroke-width="4.6" stroke-linejoin="round" stroke-linecap="round" />
<line x1="451.4" y1="1645.7" x2="491.7" y2="1645.7" stroke="#2aa5de" stroke-width="3.8" stroke-linecap="round"/><line x1="451.4" y1="1654.5" x2="491.7" y2="1654.5" stroke="#2aa5de" stroke-width="3.8" stroke-linecap="round"/><line x1="451.4" y1="1663.0" x2="491.7" y2="1663.0" stroke="#2aa5de" stroke-width="3.8" stroke-linecap="round"/><line x1="451.4" y1="1672.0" x2="491.7" y2="1672.0" stroke="#2aa5de" stroke-width="3.8" stroke-linecap="round"/>
<polygon points="1024.0,1610.0 1035.2,1634.6 1062.0,1637.6 1042.1,1655.9 1047.5,1682.4 1024.0,1669.0 1000.5,1682.4 1005.9,1655.9 986.0,1637.6 1012.8,1634.6" fill="#2aa5de" transform="translate(-5,0)"/>
<polygon points="1024.0,1610.0 1035.2,1634.6 1062.0,1637.6 1042.1,1655.9 1047.5,1682.4 1024.0,1669.0 1000.5,1682.4 1005.9,1655.9 986.0,1637.6 1012.8,1634.6" fill="none" stroke="#2e3352" stroke-width="4.6" stroke-linejoin="round" stroke-linecap="round" />
<path d="M1540.0,1631.0 L1540.0,1623.0 A23.5,23.5 0 0 1 1587.0,1623.0 L1587.0,1631.0" fill="none" stroke="#2e3352" stroke-width="4.6" stroke-linejoin="round" stroke-linecap="round" />
<rect x="1526.0" y="1631.0" width="69.0" height="56.5" rx="5" fill="#fff"/>
<rect x="1529.0" y="1631.0" width="69.0" height="56.5" rx="5" fill="none" stroke="#2e3352" stroke-width="4.6" stroke-linejoin="round" stroke-linecap="round" />
<polygon points="1563.5,1642.0 1568.5,1654.1 1581.6,1655.1 1571.6,1663.6 1574.7,1676.4 1563.5,1669.5 1552.3,1676.4 1555.4,1663.6 1545.4,1655.1 1558.5,1654.1" fill="#2aa5de" stroke="#2aa5de" stroke-width="1" stroke-linejoin="round"/>
</svg></body></html>
